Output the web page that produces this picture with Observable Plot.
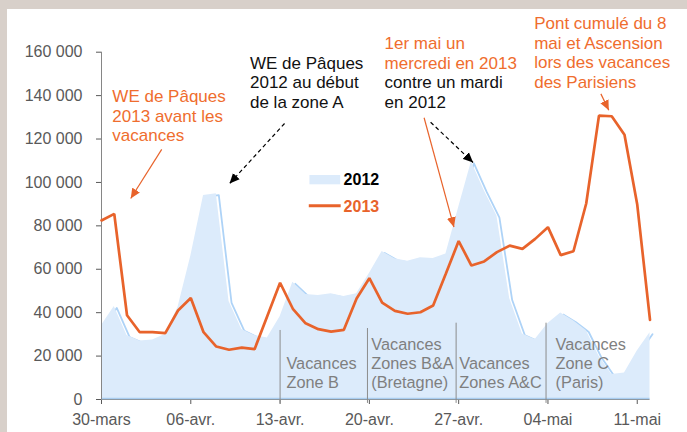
<!DOCTYPE html>
<html><head><meta charset="utf-8">
<script src="https://cdn.jsdelivr.net/npm/d3@7"></script>
<script src="https://cdn.jsdelivr.net/npm/@observablehq/plot@0.6"></script>
<style>
html,body{margin:0;padding:0;background:#d8d0ca;width:687px;height:432px;overflow:hidden;}
#panel{position:absolute;left:7px;top:9px;width:680px;height:423px;background:#fff;}
svg{display:block;}
</style></head><body><div id="panel"></div>
<script>
// ---- data ----
const xTickDays = [0, 7, 14, 21, 28, 35, 42];
const xTickLabels = ["30-mars", "06-avr.", "13-avr.", "20-avr.", "27-avr.", "04-mai", "11-mai"];
const yTicks = [0, 20000, 40000, 60000, 80000, 100000, 120000, 140000, 160000];
const v2012 = [34100, 42900, 29500, 26900, 27400, 29900, 42500, 66000, 94000, 94800,
  45200, 32300, 29500, 28300, 38100, 54000, 48400, 47900, 48700, 47500,
  48700, 58000, 68200, 64800, 63700, 65300, 65000, 67000, 88500, 109500,
  96300, 84500, 46500, 30200, 27600, 35000, 39800, 36300, 31800, 20000,
  11500, 12200, 22300, 30800];
const v2013 = [82500, 85500, 38800, 31000, 31000, 30600, 41000, 46800, 31000, 24400,
  22900, 23900, 23200, 38500, 53800, 41800, 35100, 32400, 31300, 32100,
  46500, 55900, 44600, 40800, 39500, 40200, 43300, 58000, 73000, 61700,
  63600, 67900, 70900, 69400, 74000, 79400, 66500, 68300, 90300, 130800,
  130500, 122000, 89800, 36700];
const seriesNames = ["2012", "2013"];
const vacationLabels = ["Vacances\nZone B", "Vacances\nZones B&A\n(Bretagne)", "Vacances\nZones A&C", "Vacances\nZone C\n(Paris)"];
const noteTexts = ["WE de Pâques\n2013 avant les\nvacances", "WE de Pâques\n2012 au début\nde la zone A",
  "1er mai un\nmercredi en 2013", "contre un mardi\nen 2012",
  "Pont cumulé du 8\nmai et Ascension\nlors des vacances\ndes Parisiens"];

// ---- layout / style ----
const ORANGE = "#e8632b", ORANGE_TXT = "#ef6d2e", BLUE = "#dcebfb", GRAY = "#868686", TXTGRAY = "#595959";
const rows = v2012.map((v, i) => ({day: i, y2012: v, y2013: v2013[i]}));
const vacBreaks = [{x: 14, top: 31800}, {x: 20.85, top: 32700}, {x: 27.8, top: 35150}, {x: 34.85, top: 35150}];
const vacText = vacationLabels.map((t, i) => ({t, x: [14.5, 21.15, 28.05, 35.6][i], y: 5300}));
const notes = [
  {t: noteTexts[0], x: 0.85, y: 118900, c: ORANGE_TXT},
  {t: noteTexts[1], x: 11.64, y: 134400, c: "#111"},
  {t: noteTexts[2], x: 22.19, y: 152400, c: ORANGE_TXT},
  {t: noteTexts[3], x: 22.19, y: 134400, c: "#111"},
  {t: noteTexts[4], x: 33.92, y: 143600, c: ORANGE_TXT}
];
const solidArrows = [
  {x1: 4.72, y1: 115200, x2: 2.29, y2: 92600},
  {x1: 25.29, y1: 129800, x2: 27.63, y2: 79400},
  {x1: 39.15, y1: 140800, x2: 39.77, y2: 133300}
];
const dashArrows = [
  {x1: 14.35, y1: 127150, x2: 10.04, y2: 99500},
  {x1: 25.8, y1: 127750, x2: 29.13, y2: 109200}
];
const legendSwatch = [{x1: 16.34, x2: 18.75, y1: 98900, y2: 103200}];
const legendLine = [{x1: 16.25, x2: 18.75, y: 89300}];
const legendText = [{t: seriesNames[0], x: 18.98, y: 98600, c: "#000"}, {t: seriesNames[1], x: 18.98, y: 86600, c: ORANGE}];

const svgns = "http://www.w3.org/2000/svg";
function headMarker(color, context) {
  const doc = (context && context.document) || document;
  const m = doc.createElementNS(svgns, "marker");
  m.setAttribute("viewBox", "-10 -5 10 10");
  m.setAttribute("markerUnits", "userSpaceOnUse");
  m.setAttribute("markerWidth", 10);
  m.setAttribute("markerHeight", 10);
  m.setAttribute("refX", 0);
  m.setAttribute("refY", 0);
  m.setAttribute("orient", "auto");
  const p = doc.createElementNS(svgns, "path");
  p.setAttribute("d", "M-10,-4.5L0,0L-10,4.5Z");
  p.setAttribute("fill", color);
  p.setAttribute("stroke", "none");
  m.appendChild(p);
  return m;
}

const FONT = "'Liberation Sans', Arial, sans-serif";
const fmt = d => d3.format(",")(d).replace(/,/g, " ");

function build(marker) {
  return Plot.plot({
    width: 680, height: 423,
    marginLeft: 94, marginRight: 37.5, marginTop: 42.7, marginBottom: 33,
    style: {fontFamily: FONT, fontSize: "16px", color: TXTGRAY, background: "transparent", overflow: "visible"},
    x: {domain: [0, 43], ticks: xTickDays, tickFormat: d => xTickLabels[xTickDays.indexOf(d)], tickSize: 5, tickPadding: 9, label: null},
    y: {domain: [0, 160000], ticks: yTicks, tickFormat: fmt, tickSize: 5, tickPadding: 14, label: null},
    marks: [
      Plot.lineY(rows, {x: "day", y: "y2012", stroke: "#aed3f7", strokeWidth: 1.8, dx: 2.5, dy: 1.5}),
      Plot.areaY(rows, {x: "day", y: "y2012", fill: BLUE}),
      Plot.ruleY([0], {stroke: GRAY}),
      Plot.ruleY([0], {stroke: "#a9cdf0", strokeWidth: 1.3, dy: -1}),
      Plot.ruleX([0], {y1: 0, y2: 160000, stroke: GRAY}),
      Plot.ruleX(vacBreaks, {x: "x", y1: "top", y2: -1800, stroke: "#8c8c8c", strokeWidth: 1}),
      Plot.text(vacText, {x: "x", y: "y", text: "t", textAnchor: "start", lineAnchor: "bottom", lineHeight: 1.16, fontSize: 16.3, fill: "#7f7f7f", fontFamily: FONT}),
      Plot.lineY(rows, {x: "day", y: "y2013", stroke: ORANGE, strokeWidth: 2.7, strokeLinejoin: "miter"}),
      Plot.rect(legendSwatch, {x1: "x1", x2: "x2", y1: "y1", y2: "y2", fill: BLUE}),
      Plot.link(legendLine, {x1: "x1", x2: "x2", y1: "y", y2: "y", stroke: ORANGE, strokeWidth: 3}),
      Plot.text(legendText, {x: "x", y: "y", text: "t", fill: "c", textAnchor: "start", lineAnchor: "bottom", fontSize: 16, fontWeight: "bold", fontFamily: FONT}),
      Plot.text(notes, {x: "x", y: "y", text: "t", fill: "c", textAnchor: "start", lineAnchor: "bottom", lineHeight: 1.15, fontSize: 17, fontFamily: FONT}),
      Plot.link(solidArrows, {x1: "x1", y1: "y1", x2: "x2", y2: "y2", stroke: ORANGE, strokeWidth: 1.2, markerEnd: marker}),
      Plot.link(dashArrows, {x1: "x1", y1: "y1", x2: "x2", y2: "y2", stroke: "#000", strokeWidth: 1.2, strokeDasharray: "4,3", markerEnd: marker})
    ]
  });
}
let chart;
try { chart = build(headMarker); } catch (e) { chart = build("arrow"); }
document.getElementById("panel").appendChild(chart);
</script></body></html>
